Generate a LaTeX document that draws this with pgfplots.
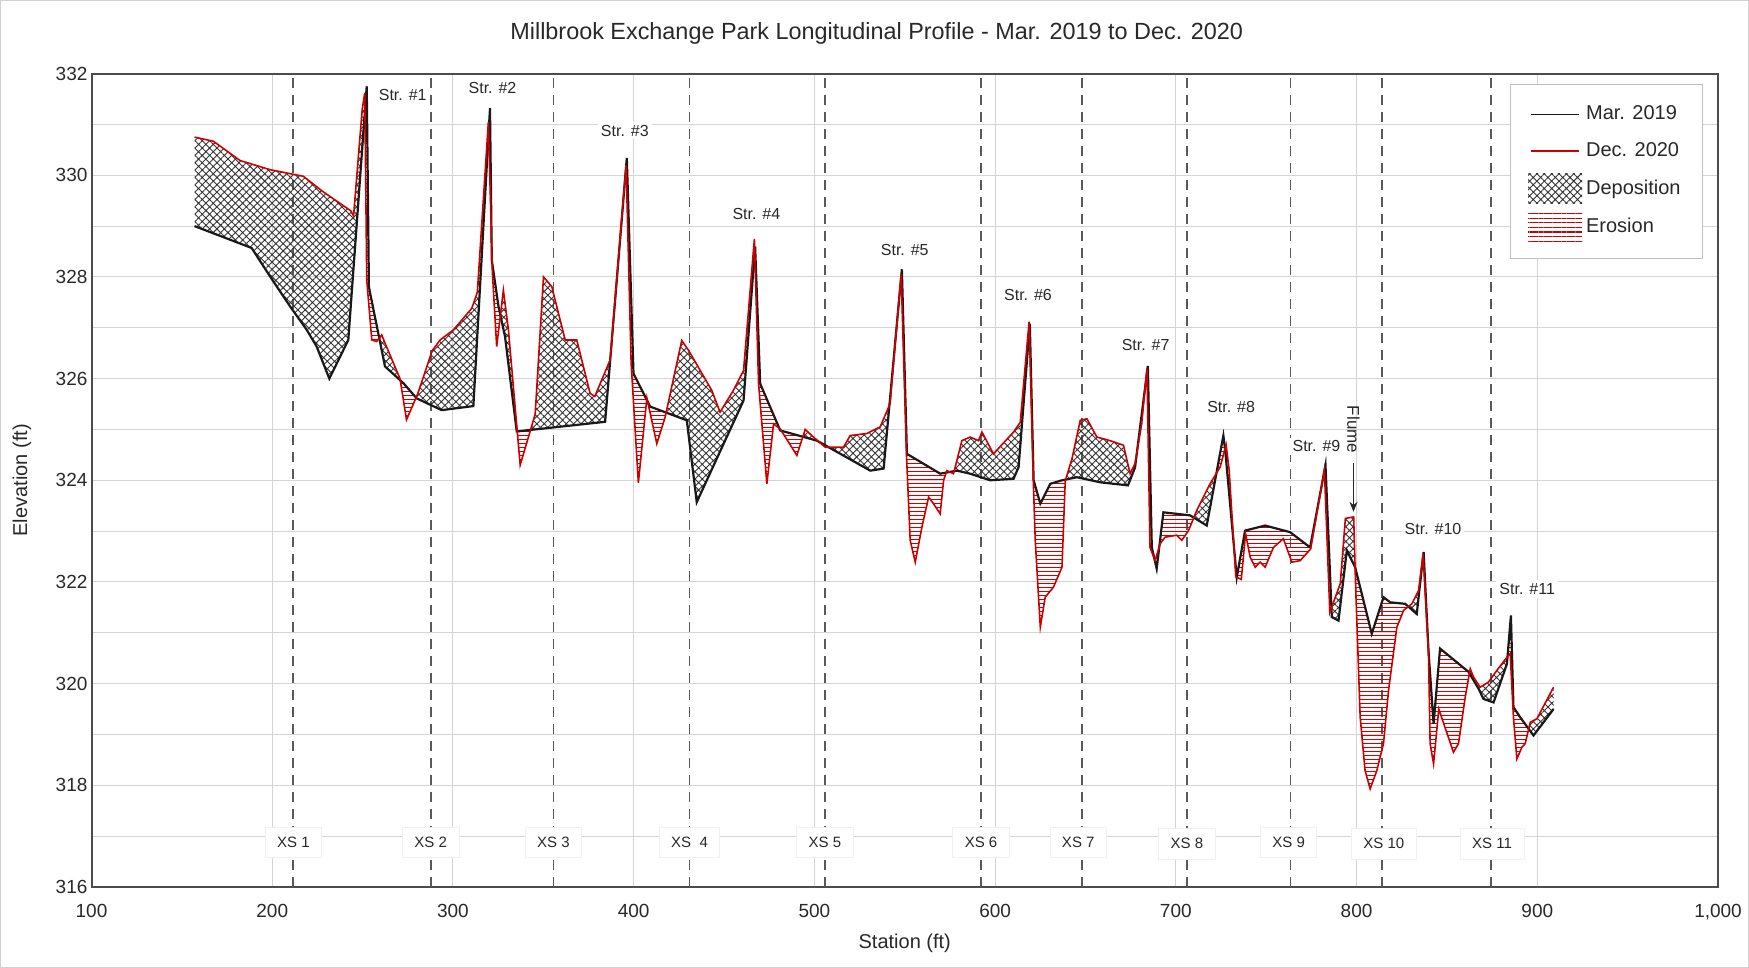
\documentclass[border=0pt]{standalone}
\usepackage{fontspec}
\setmainfont{Liberation Sans}
\usepackage{pgfplots}
\pgfplotsset{compat=1.18}
\usepackage{pgfplotstable}
\usetikzlibrary{patterns.meta,arrows.meta,intersections}

\definecolor{redline}{RGB}{205,0,0}
\definecolor{gridgray}{RGB}{212,212,212}
\definecolor{txtgray}{RGB}{40,40,40}

\makeatletter
\newcommand\clipnamedpath[1]{%
  \expandafter\let\expandafter\mytmppath\csname tikz@intersect@path@name@#1\endcsname
  \pgfsyssoftpath@setcurrentpath\mytmppath
  \pgfusepath{clip}}
\makeatother

\pgfplotstableread{
x y
157 329.00
188.6 328.57
198.8 328.01
209.9 327.42
219.1 326.96
224.6 326.63
231.6 326.00
242.1 326.76
252.3 331.75
253.5 327.80
262.4 326.24
272.6 325.91
280.0 325.61
293.8 325.38
311.3 325.46
320.5 331.32
321.5 328.33
325.2 327.42
328.8 326.83
335.3 324.96
342.7 324.99
384.2 325.15
396.2 330.34
399.9 326.10
409.1 325.45
429.4 325.18
434.9 323.57
460.8 325.57
467.2 328.60
470.0 325.90
481.1 324.98
501.4 324.78
530.9 324.19
538.3 324.23
548.4 328.15
551.2 324.52
569.6 324.13
578.8 324.19
586.2 324.13
597.3 324.00
610.2 324.03
613.0 324.26
619.2 327.08
621.3 324.00
625.0 323.54
630.5 323.93
637.0 324.00
645.3 324.06
658.2 323.96
673.5 323.90
677.4 324.25
684.5 326.25
686.7 322.68
689.4 322.26
693.1 323.37
707.9 323.31
717.1 323.11
726.3 324.88
727.3 324.60
733.7 322.09
738.3 323.01
749.4 323.11
763.2 322.98
774.3 322.68
782.8 324.30
786.3 321.31
790.0 321.24
794.6 322.62
799.2 322.29
808.4 320.98
814.9 321.70
818.6 321.60
826.9 321.57
833.3 321.37
837.1 322.59
839.8 320.65
842.6 319.21
846.2 320.69
862.0 320.23
867.5 319.90
870.2 319.70
875.8 319.63
883.2 320.39
885.4 321.34
886.8 319.54
890.5 319.34
897.9 318.98
909.0 319.50
}\blackdata

\pgfplotstableread{
x y
157 330.75
167.4 330.67
182.2 330.29
198.8 330.11
217.2 329.98
228.0 329.68
243.5 329.30
245.0 329.20
249.8 331.30
251.2 331.62
252.3 327.94
255.1 326.76
257.8 326.73
260.6 326.86
262.4 326.70
270.7 326.00
274.3 325.19
280.5 325.70
288.5 326.55
292.9 326.76
300.3 326.96
310.4 327.38
313.5 327.70
319.6 331.05
321.8 328.10
324.2 326.63
327.9 327.74
330.7 326.96
337.2 324.30
345.5 325.30
350.1 328.00
354.7 327.81
362.1 326.76
368.5 326.76
375.9 325.71
378.5 325.65
387.0 326.37
395.8 330.20
398.6 326.30
402.6 323.95
407.3 325.62
412.8 324.72
417.4 325.24
426.6 326.75
430.3 326.56
443.2 325.77
447.8 325.34
455.2 325.77
460.8 326.16
466.8 328.75
469.1 325.90
473.7 323.93
477.4 325.11
481.1 325.01
490.3 324.49
494.9 325.00
499.5 324.85
506.0 324.65
516.1 324.65
519.8 324.88
529.0 324.92
536.4 325.05
541.9 325.51
548.0 328.05
551.0 324.45
553.0 322.82
555.8 322.39
559.5 323.08
563.2 323.67
565.9 323.54
569.6 323.34
571.5 324.00
573.3 324.19
577.0 324.13
581.6 324.78
586.2 324.85
590.8 324.78
592.7 324.95
599.1 324.52
610.2 324.95
613.9 325.14
618.8 327.12
621.2 323.90
622.2 322.82
625.0 321.11
627.7 321.70
632.3 321.90
637.0 322.29
638.8 323.99
642.5 324.42
647.1 325.18
650.8 325.21
656.3 324.85
663.6 324.78
671.0 324.69
674.7 324.13
677.4 324.33
681.1 325.11
684.0 326.20
685.7 322.68
688.5 322.42
691.3 322.75
694.0 322.88
700.5 322.92
703.3 322.82
707.0 323.01
711.6 323.41
718.9 323.93
724.5 324.26
727.8 324.70
729.5 324.20
733.2 322.10
736.2 322.05
738.6 322.95
741.1 322.49
743.9 322.29
746.6 322.39
749.4 322.29
754.0 322.68
759.5 322.85
764.2 322.39
768.8 322.42
774.6 322.65
782.2 324.20
785.2 321.40
791.0 321.97
793.8 323.25
798.4 323.28
799.4 322.00
802.0 319.34
804.7 318.29
807.5 317.93
811.2 318.29
814.9 318.82
817.7 319.87
822.3 321.11
826.0 321.44
830.6 321.57
834.3 321.83
836.8 322.55
839.8 320.59
840.7 318.82
842.6 318.42
845.5 319.50
853.6 318.65
856.4 318.82
860.1 319.73
862.9 320.29
864.7 320.13
868.4 319.93
873.0 320.03
877.6 320.26
883.2 320.52
885.0 320.59
886.8 319.34
888.7 318.52
891.5 318.75
893.3 318.82
896.1 319.24
899.8 319.31
909.0 319.93
}\reddata

\pgfplotsset{
  mylinelegend/.style={legend image code/.code={\path[draw=none,fill=none] (0pt,-7pt) rectangle (27pt,7pt); \draw[##1, line width=0.6pt] (1.5pt,0pt) -- (25.5pt,0pt);}},
  myarealegend/.style={legend image code/.code={\fill[##1, draw=none] (0pt,-7.5pt) rectangle (27pt,7.5pt);}},
}
\tikzset{
  strlabel/.style={font=\fontsize{8}{9.5}\selectfont, text=txtgray, fill=white, inner sep=1.5pt},
  xslabel/.style={font=\fontsize{7.5}{9}\selectfont, text=txtgray, fill=white, draw=black!6, inner xsep=6pt, inner ysep=5pt},
}

\begin{document}
\begin{tikzpicture}
\useasboundingbox (-45.75pt,-40.5pt) rectangle (828.75pt,443.5pt);
\begin{axis}[
  at={(0pt,0pt)}, anchor=south west,
  width=813.25pt, height=406.7pt, scale only axis,
  xmin=100, xmax=1000, ymin=316, ymax=332,
  xtick={100,200,...,1000}, ytick={316,318,...,332},
  minor ytick={317,319,...,331},
  grid=both,
  major grid style={draw=gridgray, line width=0.5pt},
  minor grid style={draw=gridgray, line width=0.5pt},
  axis line style={draw=black!70, line width=1pt},
  tick style={draw=none},
  tick label style={font=\fontsize{9.5}{11}\selectfont, text=txtgray},
  /pgf/number format/assume math mode=true,
  /pgf/number format/1000 sep={,},
  xticklabel style={yshift=-5pt},
  yticklabel style={xshift=1.5pt},
  title={Millbrook Exchange Park Longitudinal Profile - Mar. 2019 to Dec. 2020},
  every axis title/.style={at={(axis description cs:0.5,1)}, anchor=center, xshift=-14pt, yshift=20pt, font=\fontsize{11.7}{14}\selectfont, text=txtgray},
  xlabel={Station (ft)}, ylabel={Elevation (ft)},
  every axis x label/.style={at={(axis description cs:0.5,0)}, anchor=center, yshift=-28pt, font=\fontsize{10}{12}\selectfont, text=txtgray},
  every axis y label/.style={at={(axis description cs:0,0.5)}, xshift=-34.75pt, anchor=center, rotate=90, font=\fontsize{10}{12}\selectfont, text=txtgray},
  legend style={at={(axis description cs:1,1)}, anchor=north east, xshift=-7.5pt, yshift=-5.2pt,
    draw=black!25, fill=white, font=\fontsize{10}{12}\selectfont, text=txtgray,
    row sep=4.3pt, inner xsep=9pt, inner ysep=8pt},
  legend cell align=left,
]
% cross-section lines
\pgfplotsinvokeforeach{211.7,287.7,355.6,430.9,505.8,592.2,648.0,706.1,763.4,814.1,874.5}{
  \addplot[forget plot, black!65, line width=0.9pt, dash pattern=on 5pt off 3.5pt] coordinates {(#1,316) (#1,332)};
}
% regions bounded by each profile
\addplot[draw=none, forget plot, name path=Babove] table {\blackdata} -- (axis cs:909,333) -- (axis cs:157,333) -- cycle;
\addplot[draw=none, forget plot, name path=Bbelow] table {\blackdata} -- (axis cs:909,315) -- (axis cs:157,315) -- cycle;
\addplot[draw=none, forget plot, name path=Rabove] table {\reddata} -- (axis cs:909,333) -- (axis cs:157,333) -- cycle;
\addplot[draw=none, forget plot, name path=Rbelow] table {\reddata} -- (axis cs:909,315) -- (axis cs:157,315) -- cycle;
% deposition = above Mar. 2019 and below Dec. 2020; erosion = the reverse
\pgfplotsextra{
  \begin{scope}
    \clipnamedpath{Babove}
    \clipnamedpath{Rbelow}
    \fill[pattern={Hatch[angle=45,distance=2.6pt,line width=0.45pt]}, pattern color=black!80] (axis cs:100,316) rectangle (axis cs:1000,332);
  \end{scope}
  \begin{scope}
    \clipnamedpath{Bbelow}
    \clipnamedpath{Rabove}
    \fill[pattern={Lines[angle=0,distance=2pt,line width=0.5pt]}, pattern color=redline] (axis cs:100,316) rectangle (axis cs:1000,332);
  \end{scope}
}
% profiles
\addplot[black!90, line width=1.1pt, mylinelegend] table {\blackdata};
\addlegendentry{Mar. 2019}
\addplot[redline, line width=0.8pt, mylinelegend] table {\reddata};
\addlegendentry{Dec. 2020}
\addlegendimage{myarealegend, pattern={Hatch[angle=45,distance=2.6pt,line width=0.45pt]}, pattern color=black!80}
\addlegendentry{Deposition}
\addlegendimage{myarealegend, pattern={Lines[angle=0,distance=2.3pt,line width=0.6pt]}, pattern color=redline}
\addlegendentry{Erosion}
% structure labels
\node[strlabel] at (axis cs:272.2,331.58) {Str. \#1};
\node[strlabel] at (axis cs:321.9,331.71) {Str. \#2};
\node[strlabel] at (axis cs:395.1,330.88) {Str. \#3};
\node[strlabel] at (axis cs:467.9,329.23) {Str. \#4};
\node[strlabel] at (axis cs:550.0,328.53) {Str. \#5};
\node[strlabel] at (axis cs:618.2,327.65) {Str. \#6};
\node[strlabel] at (axis cs:683.3,326.67) {Str. \#7};
\node[strlabel] at (axis cs:730.6,325.44) {Str. \#8};
\node[strlabel] at (axis cs:777.8,324.67) {Str. \#9};
\node[strlabel] at (axis cs:842.3,323.04) {Str. \#10};
\node[strlabel] at (axis cs:894.4,321.86) {Str. \#11};
% cross-section labels
\node[xslabel] at (axis cs:211.7,316.88) {XS 1};
\node[xslabel] at (axis cs:287.7,316.88) {XS 2};
\node[xslabel] at (axis cs:355.6,316.88) {XS 3};
\node[xslabel] at (axis cs:430.9,316.88) {XS\ \ 4};
\node[xslabel] at (axis cs:505.8,316.88) {XS 5};
\node[xslabel] at (axis cs:592.2,316.88) {XS 6};
\node[xslabel] at (axis cs:646.0,316.88) {XS 7};
\node[xslabel] at (axis cs:706.1,316.85) {XS 8};
\node[xslabel] at (axis cs:762.4,316.88) {XS 9};
\node[xslabel] at (axis cs:815.1,316.85) {XS 10};
\node[xslabel] at (axis cs:875.0,316.85) {XS 11};
% flume
\node[rotate=-90, font=\fontsize{8.5}{10}\selectfont, text=txtgray] at (axis cs:798.3,325.0) {Flume};
\draw[-{Stealth[length=5pt,width=4pt]}, black!85, line width=0.6pt] (axis cs:798.3,324.34) -- (axis cs:798.3,323.38);
\end{axis}
\draw[black!18, line width=0.5pt] (-45.5pt,-40.25pt) rectangle (828.5pt,443.25pt);
\end{tikzpicture}
\end{document}
